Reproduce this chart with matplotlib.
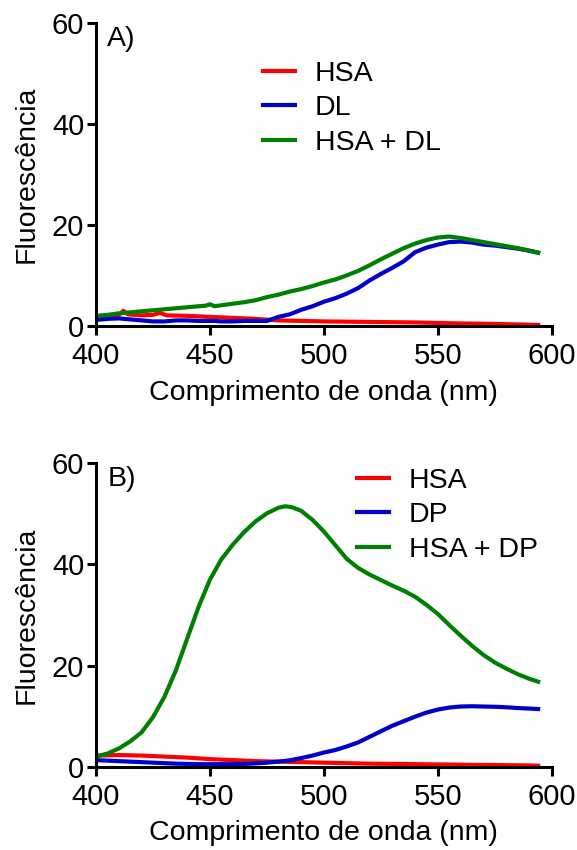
import matplotlib
matplotlib.use('Agg')
import matplotlib.pyplot as plt

plt.rcParams['font.family'] = ['Liberation Sans', 'DejaVu Sans']
plt.rcParams['font.size'] = 20

# cores
COLOR_HSA = '#ff0000'
COLOR_DRUG = '#0000cc'
COLOR_MIX = '#008000'

# ---- Painel A (DL) ----
wl_a = [400, 405, 410, 415, 420, 425, 430, 435, 440, 445, 448, 450, 452, 455,
        460, 465, 470, 475, 480, 485, 490, 495, 500, 505, 510, 515, 520, 525,
        530, 535, 540, 545, 550, 555, 560, 565, 570, 575, 580, 585, 590, 594]
mix_a = [2.0, 2.2, 2.5, 2.7, 2.9, 3.1, 3.3, 3.5, 3.7, 3.9, 4.0, 4.3, 3.9, 4.1,
         4.4, 4.7, 5.1, 5.7, 6.2, 6.8, 7.3, 7.9, 8.6, 9.2, 10.0, 10.9, 12.0, 13.2,
         14.3, 15.4, 16.3, 17.0, 17.5, 17.7, 17.4, 17.0, 16.6, 16.2, 15.8, 15.4, 14.9, 14.5]
dl_a = [1.2, 1.4, 1.5, 1.3, 1.1, 0.9, 0.9, 1.1, 1.1, 1.0, 1.0, 1.0, 1.0, 0.9,
        0.9, 1.0, 1.0, 1.0, 1.8, 2.3, 3.2, 3.9, 4.8, 5.5, 6.4, 7.5, 9.0, 10.3,
        11.5, 12.8, 14.6, 15.5, 16.1, 16.6, 16.7, 16.5, 16.1, 15.9, 15.6, 15.3, 14.9, 14.5]
wl_hsa_a = [400, 405, 410, 412, 414, 420, 425, 428, 431, 440, 450, 460, 470,
            480, 490, 500, 510, 520, 530, 540, 550, 560, 570, 580, 590, 594]
hsa_a = [1.5, 1.8, 2.2, 3.0, 2.3, 2.1, 2.2, 2.6, 2.1, 2.0, 1.8, 1.6, 1.4,
         1.1, 1.0, 0.9, 0.85, 0.8, 0.75, 0.7, 0.6, 0.5, 0.45, 0.35, 0.25, 0.2]

# ---- Painel B (DP) ----
wl_b = [400, 405, 410, 415, 420, 425, 430, 435, 440, 445, 450, 455, 460, 465,
        470, 475, 480, 483, 486, 490, 495, 500, 505, 510, 515, 520, 525, 530, 535,
        540, 545, 550, 555, 560, 565, 570, 575, 580, 585, 590, 594]
mix_b = [2.0, 2.6, 3.6, 5.0, 6.8, 9.8, 13.8, 19.0, 25.3, 31.6, 37.0, 41.0, 43.9, 46.4,
         48.5, 50.1, 51.2, 51.5, 51.3, 50.6, 48.8, 46.5, 43.8, 41.1, 39.3, 38.0, 36.9, 35.8, 34.8,
         33.6, 32.0, 30.2, 28.0, 25.9, 23.9, 22.1, 20.6, 19.4, 18.3, 17.4, 16.8]
dp_b = [1.3, 1.2, 1.1, 1.0, 0.9, 0.8, 0.7, 0.6, 0.55, 0.5, 0.5, 0.5, 0.5, 0.55,
        0.65, 0.8, 1.0, 1.15, 1.35, 1.7, 2.2, 2.8, 3.3, 4.0, 4.8, 5.9, 7.0, 8.1, 9.0,
        9.9, 10.7, 11.3, 11.7, 11.9, 11.95, 11.9, 11.85, 11.75, 11.6, 11.5, 11.4]
wl_hsa_b = [400, 410, 420, 430, 440, 450, 460, 470, 480, 490, 500, 510, 520,
            530, 540, 550, 560, 570, 580, 590, 594]
hsa_b = [2.2, 2.3, 2.2, 2.0, 1.8, 1.5, 1.3, 1.1, 1.0, 0.9, 0.8, 0.7, 0.6,
         0.55, 0.5, 0.45, 0.4, 0.35, 0.3, 0.25, 0.2]

x_ticks = [400, 450, 500, 550, 600]
y_ticks = [0, 20, 40, 60]

fig = plt.figure(figsize=(5.77, 8.5), dpi=100)
ax_a = fig.add_axes([0.1664, 0.6165, 0.790, 0.3568])
ax_b = fig.add_axes([0.1664, 0.0980, 0.790, 0.3570])


def style_axes(ax, tag):
    ax.set_xlim(400, 600)
    ax.set_ylim(0, 60)
    ax.set_xticks(x_ticks)
    ax.set_yticks(y_ticks)
    for s in ['top', 'right']:
        ax.spines[s].set_visible(False)
    for s in ['left', 'bottom']:
        ax.spines[s].set_linewidth(2.2)
    ax.tick_params(length=6.5, width=2.2, labelsize=21)
    ax.tick_params(axis='x', pad=5)
    ax.tick_params(axis='y', pad=2)
    ax.set_xlabel('Comprimento de onda (nm)', fontsize=20.5, labelpad=7)
    ax.set_ylabel('Fluorescência', fontsize=20.5, labelpad=9)
    ax.text(0.025, 0.99, tag, transform=ax.transAxes, ha='left', va='top', fontsize=20.5)


lw = 3.0
leg_kw = dict(loc='upper left', frameon=False, fontsize=20.5, handlelength=1.12,
              handletextpad=0.7, labelspacing=0.3, borderpad=0, borderaxespad=0)

ax_a.plot(wl_hsa_a, hsa_a, color=COLOR_HSA, lw=lw, label='HSA')
ax_a.plot(wl_a, dl_a, color=COLOR_DRUG, lw=lw, label='DL')
ax_a.plot(wl_a, mix_a, color=COLOR_MIX, lw=lw, label='HSA + DL')
style_axes(ax_a, 'A)')
ax_a.legend(bbox_to_anchor=(0.366, 0.875), **leg_kw)

ax_b.plot(wl_hsa_b, hsa_b, color=COLOR_HSA, lw=lw, label='HSA')
ax_b.plot(wl_b, dp_b, color=COLOR_DRUG, lw=lw, label='DP')
ax_b.plot(wl_b, mix_b, color=COLOR_MIX, lw=lw, label='HSA + DP')
style_axes(ax_b, 'B)')
ax_b.legend(bbox_to_anchor=(0.572, 0.985), **leg_kw)

fig.savefig('out.png', dpi=100, facecolor='white')
